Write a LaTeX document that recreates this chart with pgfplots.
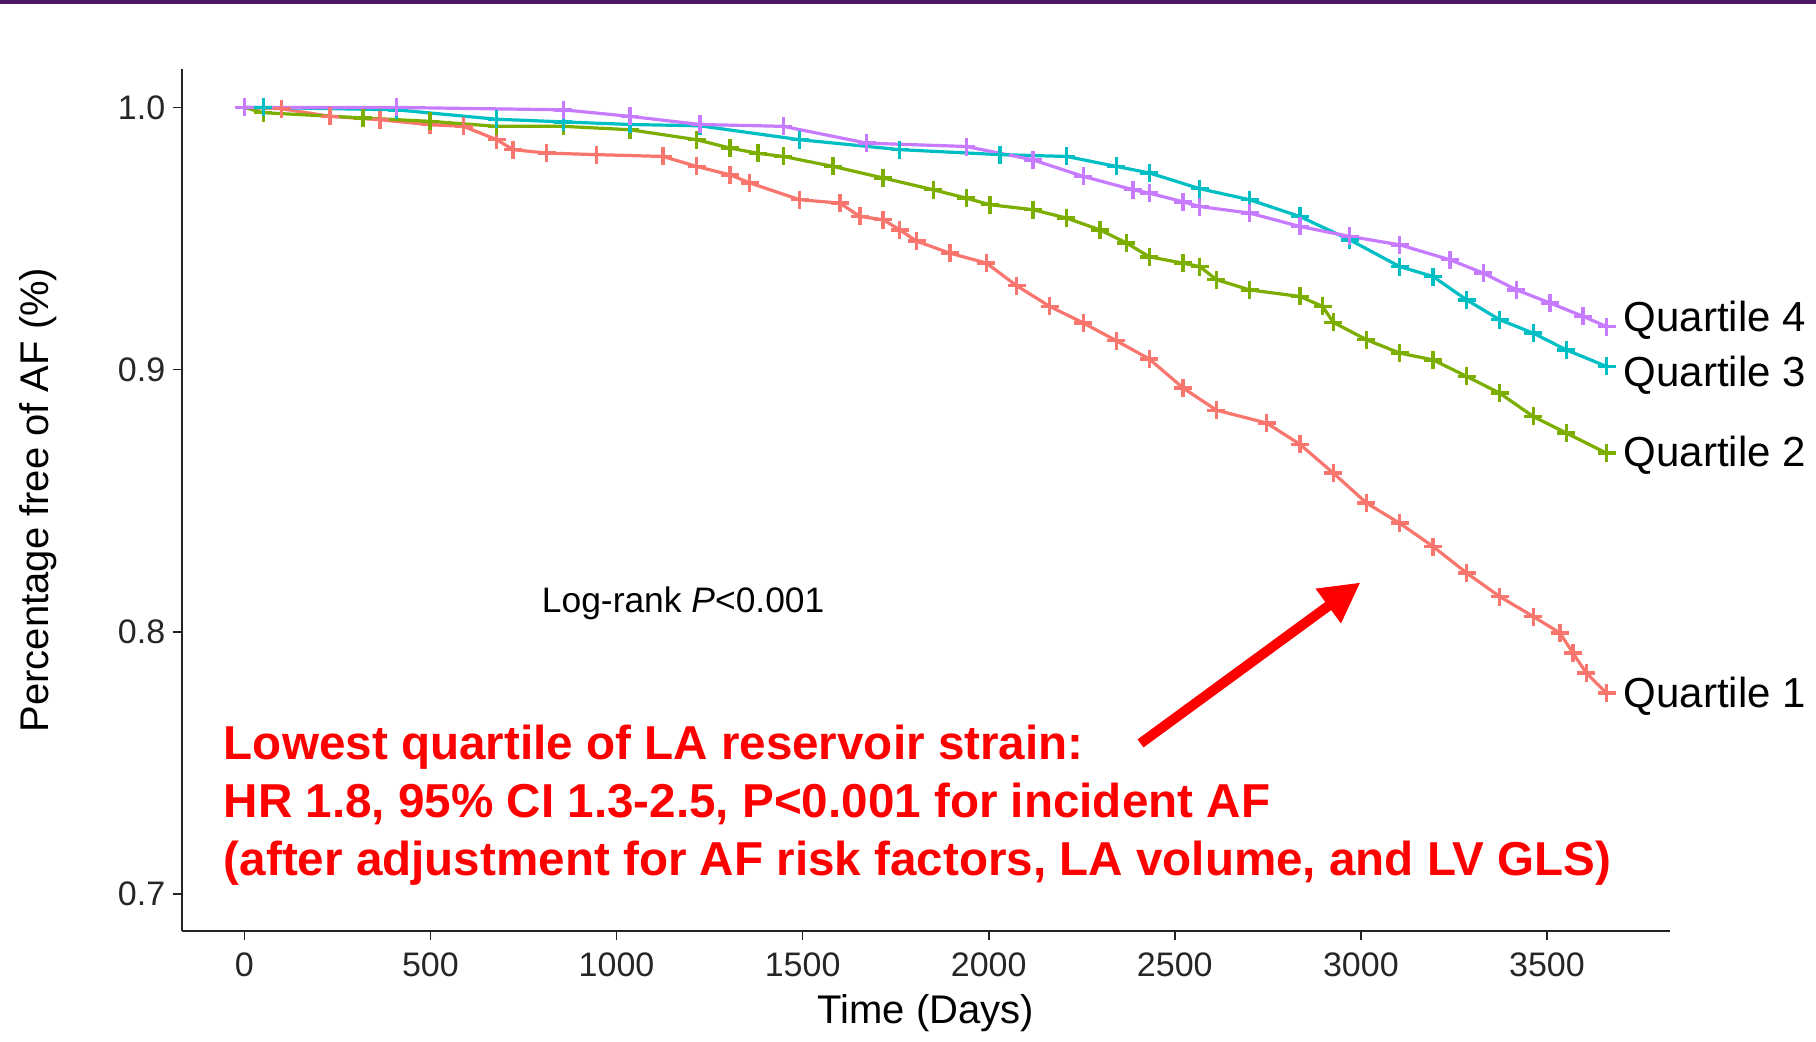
\documentclass[border=0pt]{standalone}
\usepackage{pgfplots}
\pgfplotsset{compat=1.18}
\usepackage{fontspec}
\setmainfont{Liberation Sans}
\usetikzlibrary{arrows.meta}
\definecolor{q1}{HTML}{F8766D}
\definecolor{q2}{HTML}{7CAE00}
\definecolor{q3}{HTML}{00BFC4}
\definecolor{q4}{HTML}{C77CFF}
\definecolor{hdr}{HTML}{4B1763}
\definecolor{axcol}{HTML}{222222}

\pgfplotstableread{
t s
0 1.000
100 0.9995
230 0.9966
365 0.9953
499 0.9934
589 0.9928
678 0.9877
722 0.9839
812 0.9826
946 0.9820
1125 0.9813
1215 0.9775
1305 0.9743
1358 0.9712
1492 0.9648
1600 0.9635
1654 0.9584
1716 0.9572
1761 0.9533
1806 0.9490
1896 0.9444
1994 0.9406
2075 0.9320
2164 0.9241
2254 0.9178
2343 0.9110
2432 0.9040
2522 0.8930
2612 0.8845
2747 0.8796
2836 0.8715
2926 0.8605
3015 0.8491
3104 0.8414
3194 0.8325
3284 0.8224
3373 0.8134
3463 0.8058
3535 0.7995
3570 0.7918
3606 0.7842
3660 0.7766
}\qone

\pgfplotstableread{
t s
0 1.000
51 0.998
319 0.996
499 0.9947
678 0.9928
857 0.9928
1036 0.9915
1215 0.9877
1305 0.9845
1380 0.9825
1448 0.9813
1582 0.9775
1716 0.9731
1851 0.9686
1940 0.9654
2003 0.9629
2119 0.9610
2209 0.9578
2299 0.9533
2370 0.9483
2432 0.9430
2522 0.9406
2567 0.9393
2612 0.9343
2701 0.9304
2836 0.9279
2897 0.9241
2926 0.9180
3015 0.9114
3104 0.9063
3194 0.9037
3284 0.8974
3373 0.8910
3463 0.8821
3552 0.8758
3660 0.8681
}\qtwo

\pgfplotstableread{
t s
0 1.000
51 1.000
409 0.9991
678 0.9955
857 0.9945
1036 0.9935
1224 0.9930
1492 0.9877
1761 0.9839
2030 0.9820
2209 0.9813
2343 0.9775
2432 0.9750
2567 0.9690
2701 0.9648
2836 0.9584
2970 0.9495
3104 0.9393
3194 0.9355
3284 0.9266
3373 0.9190
3463 0.9139
3552 0.9075
3660 0.9012
}\qthree

\pgfplotstableread{
t s
0 1.000
409 1.000
857 0.9991
1036 0.9966
1224 0.9935
1448 0.9928
1672 0.9864
1940 0.9851
2119 0.9800
2254 0.9737
2388 0.9686
2432 0.9673
2522 0.9640
2567 0.9622
2701 0.9597
2836 0.9546
2970 0.9508
3104 0.9476
3239 0.9419
3329 0.9368
3418 0.9304
3508 0.9254
3597 0.9203
3660 0.9164
}\qfour

\begin{document}
\begin{tikzpicture}[x=1pt,y=1pt]
\useasboundingbox (0,0) rectangle (908,521);
\fill[white] (0,0) rectangle (908,521);
\fill[hdr] (0,519.2) rectangle (908,521);
\begin{axis}[
  at={(90.9pt,55.6pt)}, anchor=south west,
  scale only axis, width=744pt, height=430.8pt,
  xmin=-168, xmax=3830, ymin=0.6859, ymax=1.0146,
  clip=false,
  axis lines=left,
  axis line style={-, line width=0.9pt, axcol},
  tick align=outside,
  major tick length=4.6pt,
  tick style={line width=0.8pt, axcol},
  xtick={0,500,1000,1500,2000,2500,3000,3500},
  xticklabels={0,500,1000,1500,2000,2500,3000,3500},
  ytick={0.7,0.8,0.9,1.0},
  yticklabels={0.7,0.8,0.9,1.0},
  tick label style={font=\fontsize{17}{17}\selectfont, text=black!85},
  xticklabel style={inner sep=0pt, yshift=-6pt},
  yticklabel style={inner sep=0pt, xshift=-3.5pt},
  every axis x label/.style={at={(rel axis cs:0.5,0)}, yshift=-41pt, anchor=center, font=\fontsize{20}{20}\selectfont},
  every axis y label/.style={at={(rel axis cs:0,0.5)}, xshift=-71.8pt, rotate=90, anchor=center, font=\fontsize{20}{20}\selectfont},
  xlabel={Time (Days)},
  ylabel={Percentage free of AF (\%)},
  every axis plot/.append style={line width=1.6pt, mark=+, mark size=4.5pt, mark options={line width=1.7pt}},
]
\addplot[q1] table[x=t,y=s] {\qone};
\addplot[q2] table[x=t,y=s] {\qtwo};
\addplot[q3] table[x=t,y=s] {\qthree};
\addplot[q4] table[x=t,y=s] {\qfour};

\node[anchor=west, inner sep=0pt, font=\fontsize{21}{21}\selectfont] at (axis cs:3705,0.919) {Quartile 4};
\node[anchor=west, inner sep=0pt, font=\fontsize{21}{21}\selectfont] at (axis cs:3705,0.898) {Quartile 3};
\node[anchor=west, inner sep=0pt, font=\fontsize{21}{21}\selectfont] at (axis cs:3705,0.8674) {Quartile 2};
\node[anchor=west, inner sep=0pt, font=\fontsize{21}{21}\selectfont] at (axis cs:3705,0.7755) {Quartile 1};

\node[anchor=center, inner sep=0pt, font=\fontsize{17.7}{17.7}\selectfont] at (axis cs:1179,0.8109) {Log-rank \textit{P}<0.001};

\draw[red, line width=5pt, -{Triangle[length=20pt,width=20pt]}] (axis cs:2408,0.7574) -- (axis cs:2999,0.8188);

\node[anchor=base west, inner sep=0pt, text=red, font=\fontsize{23.8}{23.8}\selectfont\bfseries] at (axis cs:-56,0.7512) {Lowest quartile of LA reservoir strain:};
\node[anchor=base west, inner sep=0pt, text=red, font=\fontsize{23.8}{23.8}\selectfont\bfseries] at (axis cs:-56,0.7291) {HR 1.8, 95\% CI 1.3-2.5, P<0.001 for incident AF};
\node[anchor=base west, inner sep=0pt, text=red, font=\fontsize{23.8}{23.8}\selectfont\bfseries] at (axis cs:-56,0.7070) {(after adjustment for AF risk factors, LA volume, and LV GLS)};
\end{axis}
\end{tikzpicture}
\end{document}
